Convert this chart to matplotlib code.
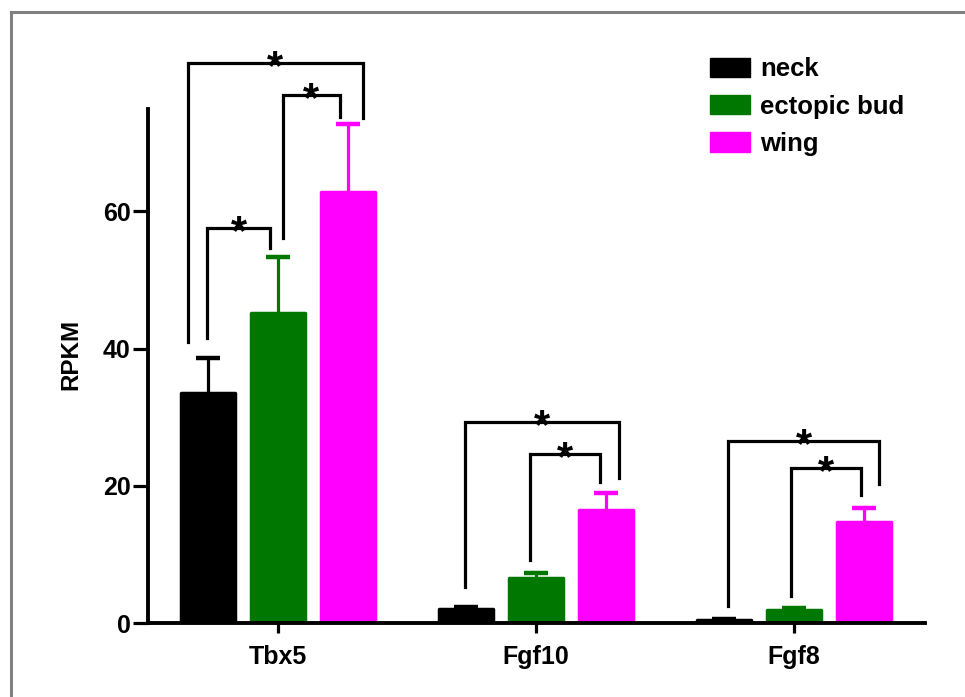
import numpy as np
import matplotlib
matplotlib.use("Agg")
import matplotlib.pyplot as plt
from matplotlib.lines import Line2D
from matplotlib.patches import Patch

plt.rcParams.update({
    "font.family": ["Liberation Sans", "DejaVu Sans"],
    "font.weight": "bold",
    "axes.spines.top": False, "axes.spines.right": False,
})

genes = ["Tbx5", "Fgf10", "Fgf8"]
tissues = ["neck", "ectopic bud", "wing"]
colors = ["#000000", "#007800", "#ff00ff"]

# mean RPKM and top of the error bar, one value per gene
neck_mean = [33.5, 2.0, 0.4]
neck_top = [38.6, 2.4, 0.6]
bud_mean = [45.2, 6.5, 1.9]
bud_top = [53.4, 7.3, 2.2]
wing_mean = [62.8, 16.5, 14.7]
wing_top = [72.7, 18.9, 16.8]
yticks = [0, 20, 40, 60]

# significance brackets: gene, left bar, right bar, bracket level, left leg end, right leg end
brackets = [
    (0, 0, 1, 57.6, 41.5, 54.7),
    (0, 1, 2, 77.0, 56.1, 73.8),
    (0, 0, 2, 81.6, 41.0, 73.6),
    (1, 1, 2, 24.6, 9.2, 20.6),
    (1, 0, 2, 29.3, 5.2, 21.1),
    (2, 1, 2, 22.6, 3.9, 18.7),
    (2, 0, 2, 26.5, 2.5, 20.3),
]
# small horizontal nudges of the bracket legs (style only)
leg_shift = [(-0.004, -0.031), (0.019, -0.031), (-0.078, 0.058),
             (-0.024, -0.022), (-0.003, 0.049),
             (-0.010, -0.011), (0.015, 0.059)]

means = [neck_mean, bud_mean, wing_mean]
tops = [neck_top, bud_top, wing_top]

fig = plt.figure(figsize=(9.65, 6.97), dpi=100)
ax = fig.add_axes([0.1534, 0.1061, 0.8052, 0.7382])

x = np.arange(len(genes))
pitch, width = 0.271, 0.209
for k in range(3):
    pos = x + (k - 1) * pitch
    m = np.array(means[k]); t = np.array(tops[k])
    ax.bar(pos, m, width, color=colors[k], edgecolor=colors[k], lw=2.5,
           joinstyle="round", zorder=2)
    eb = ax.errorbar(pos, m, yerr=[np.zeros_like(m), t - m], fmt="none",
                     ecolor=colors[k], elinewidth=2.3, capsize=8.3, capthick=3.2, zorder=2)
    # only the upper cap is drawn in the original
    for cl in eb[1]:
        if np.allclose(cl.get_ydata(), m):
            cl.set_visible(False)

for (gi, a, b, lev, ya, yb), (sa, sb) in zip(brackets, leg_shift):
    xa = x[gi] + (a - 1) * pitch + sa
    xb = x[gi] + (b - 1) * pitch + sb
    ax.plot([xa, xa, xb, xb], [ya, lev, lev, yb], color="black", lw=2.3,
            solid_joinstyle="miter", clip_on=False, zorder=3)
    ax.annotate("*", xy=((xa + xb) / 2, lev), xytext=(0, -11.5), textcoords="offset points",
                ha="center", va="baseline", fontsize=30, annotation_clip=False)

ax.set_xlim(-0.504, 2.508)
ax.set_ylim(0, 75)
ax.set_xticks(x)
ax.set_xticklabels(genes)
ax.set_yticks(yticks)
for s in ("left", "bottom"):
    ax.spines[s].set_linewidth(2.8)
ax.tick_params(axis="y", length=10.5, width=2.3, labelsize=18, pad=2)
ax.tick_params(axis="x", length=7, width=2.3, labelsize=18, pad=9)
ax.set_ylabel("RPKM", fontsize=17.5, fontweight="bold")
ax.yaxis.set_label_coords(-0.084, 0.522)

handles = [Patch(facecolor=c, edgecolor=c) for c in colors]
fig.legend(handles, tissues, loc="upper left", bbox_to_anchor=(0.7358, 0.918),
           frameon=False, fontsize=18.5, handlelength=1.56, handleheight=0.78,
           handletextpad=0.39, labelspacing=0.52, borderpad=0, borderaxespad=0)

# grey frame at the left and top of the picture
fig.add_artist(Line2D([11 / 965, 11 / 965], [0, 1 - 12 / 697], color="#808080", lw=2.2,
                      transform=fig.transFigure))
fig.add_artist(Line2D([11 / 965, 1], [1 - 12 / 697, 1 - 12 / 697], color="#808080", lw=2.2,
                      transform=fig.transFigure))

fig.savefig("out.png", dpi=100)
